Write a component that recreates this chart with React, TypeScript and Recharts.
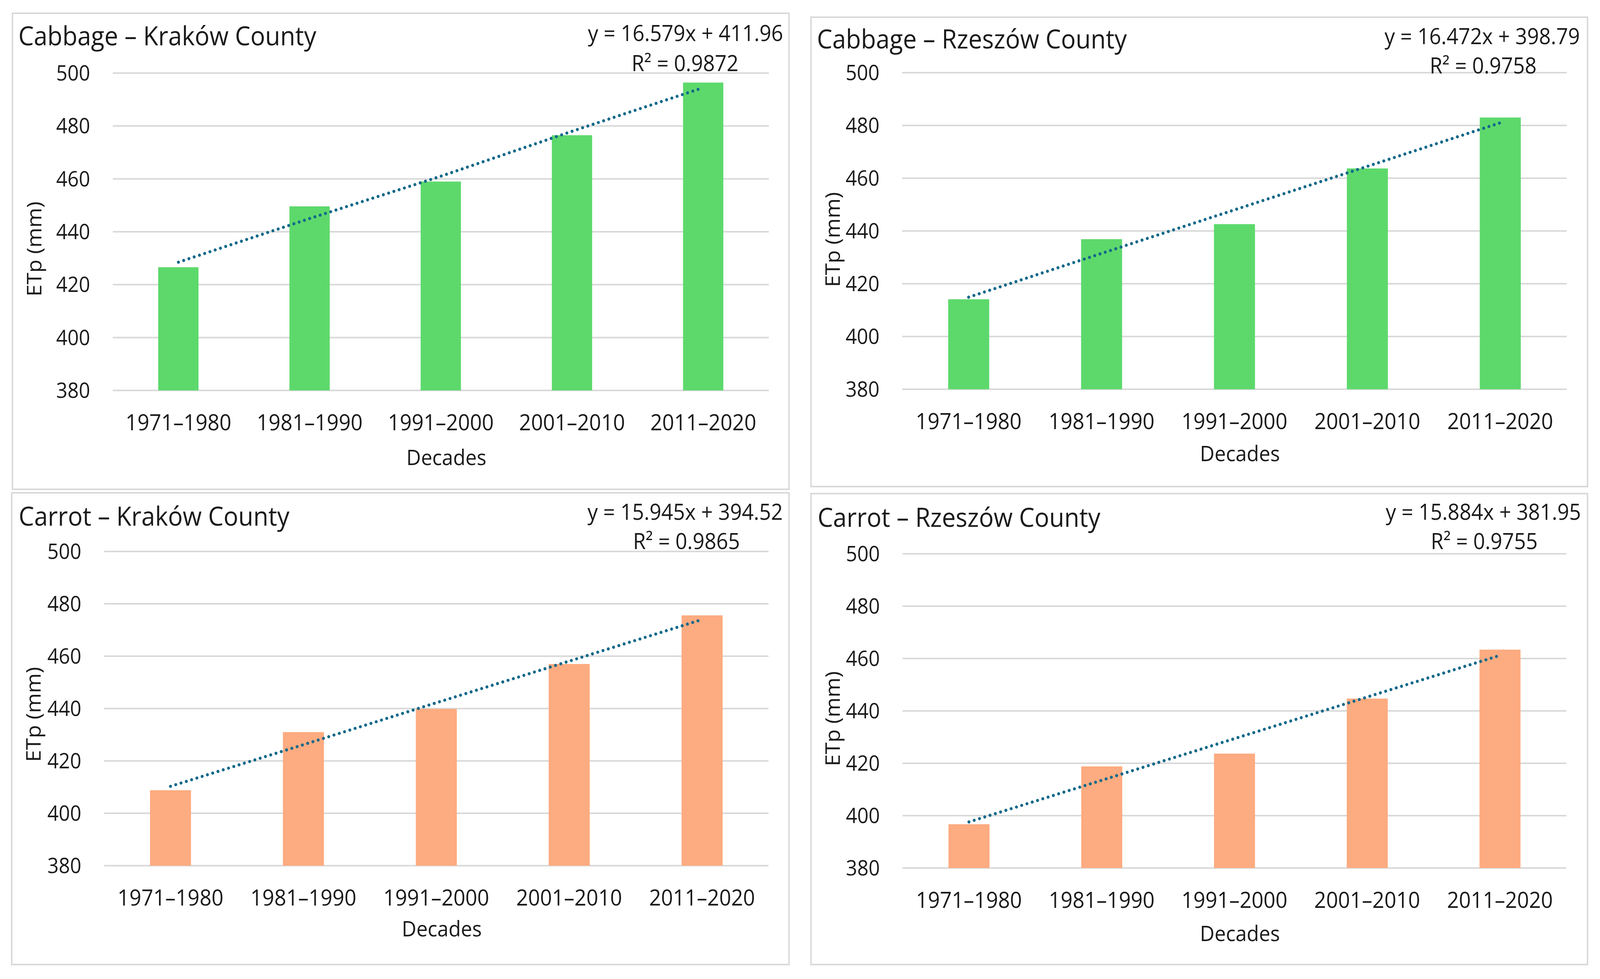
import { ComposedChart, Bar, Line, XAxis, YAxis, CartesianGrid } from "recharts";

// Decades on the category axis, shared by all four panels
const DECADES = ["1971–1980", "1981–1990", "1991–2000", "2001–2010", "2011–2020"];
const Y_TICKS = [380, 400, 420, 440, 460, 480, 500];

// ETp (mm) per decade
const CABBAGE_KRAKOW = [426.6, 449.6, 459.0, 476.5, 496.4];
const CABBAGE_RZESZOW = [414.1, 436.9, 442.6, 463.7, 483.0];
const CARROT_KRAKOW = [408.8, 431.0, 439.9, 457.0, 475.6];
const CARROT_RZESZOW = [396.7, 418.8, 423.7, 444.7, 463.4];

// dotted linear trend lines, read at each bar centre
const CABBAGE_KRAKOW_TREND = [428.5, 445.0, 461.0, 478.0, 494.5];
const CABBAGE_RZESZOW_TREND = [414.9, 431.5, 448.0, 464.5, 481.0];
const CARROT_KRAKOW_TREND = [410.3, 426.2, 442.2, 458.1, 474.0];
const CARROT_RZESZOW_TREND = [397.6, 413.5, 429.4, 445.3, 461.2];

const GREEN = "#5dd96c";
const ORANGE = "#fdab80";
const TREND = "#13698a";
const GRID = "#d9d9d9";
const FONT = "'Open Sans', 'Noto Sans', sans-serif";
const TEXT = "#1a1a1a";

const PAGE_W = 4368;
const PAGE_H = 2505;

type Layout = {
  x: number; y: number; w: number; h: number;
  plotLeft: number; plotRight: number; plotTop: number; plotBottom: number;
  titleX: number; titleY: number;
  eqRight: number; eqY: number; r2Right: number; r2Y: number;
  yLabelY: number; decadesY: number;
};

type PanelProps = {
  layout: Layout;
  title: string;
  equation: string;
  r2: string;
  values: number[];
  trend: number[];
  color: string;
};

function Panel({ layout, title, equation, r2, values, trend, color }: PanelProps) {
  const data = DECADES.map((decade, i) => ({ decade, etp: values[i], trend: trend[i] }));
  const { x, y, w, h, plotLeft, plotRight, plotTop, plotBottom } = layout;
  const midX = (plotLeft + plotRight) / 2 + 15;

  return (
    <div style={{ position: "absolute", left: x, top: y, width: w, height: h }}>
      <div
        style={{
          position: "absolute",
          left: -2,
          top: -2,
          width: w + 4,
          height: h + 4,
          border: `4px solid ${GRID}`,
          boxSizing: "border-box",
        }}
      />
      <div style={{ position: "absolute", left: 0, top: 0 }}>
        <ComposedChart
          width={w}
          height={h}
          data={data}
          margin={{ top: plotTop, right: w - plotRight, bottom: 0, left: 0 }}
          barCategoryGap="34.6%"
        >
          <CartesianGrid vertical={false} stroke={GRID} strokeWidth={4} />
          <XAxis
            dataKey="decade"
            height={h - plotBottom}
            interval={0}
            axisLine={false}
            tickLine={false}
            tickSize={0}
            tickMargin={62}
            tick={{ fontSize: 57, fill: TEXT, fontFamily: FONT }}
          />
          <YAxis
            width={plotLeft}
            domain={[380, 500]}
            ticks={Y_TICKS}
            axisLine={false}
            tickLine={false}
            tickSize={0}
            tickMargin={62}
            tick={{ fontSize: 54, fill: TEXT, fontFamily: FONT }}
          />
          <Bar dataKey="etp" fill={color} isAnimationActive={false} />
          <Line
            dataKey="trend"
            type="linear"
            stroke={TREND}
            strokeWidth={8}
            strokeDasharray="0.01 15"
            strokeLinecap="round"
            dot={false}
            activeDot={false}
            isAnimationActive={false}
          />
        </ComposedChart>
      </div>
      <svg
        width={w}
        height={h}
        style={{ position: "absolute", left: 0, top: 0, pointerEvents: "none", overflow: "visible" }}
      >
        <text x={layout.titleX} y={layout.titleY} fontSize={67} fontFamily={FONT} fill={TEXT}>
          {title}
        </text>
        <text
          x={layout.eqRight}
          y={layout.eqY}
          fontSize={56}
          fontFamily={FONT}
          fill={TEXT}
          textAnchor="end"
          textLength={533}
          lengthAdjust="spacingAndGlyphs"
        >
          {equation}
        </text>
        <text
          x={layout.r2Right}
          y={layout.r2Y}
          fontSize={56}
          fontFamily={FONT}
          fill={TEXT}
          textAnchor="end"
          textLength={292}
          lengthAdjust="spacingAndGlyphs"
        >
          {r2}
        </text>
        <text
          transform={`translate(58, ${layout.yLabelY}) rotate(-90)`}
          fontSize={55}
          fontFamily={FONT}
          fill={TEXT}
          textAnchor="middle"
          dominantBaseline="central"
        >
          ETp (mm)
        </text>
        <text x={midX} y={layout.decadesY} fontSize={55} fontFamily={FONT} fill={TEXT} textAnchor="middle">
          Decades
        </text>
      </svg>
    </div>
  );
}

const LAYOUT_CABBAGE_KRAKOW: Layout = {
  x: 34, y: 34, w: 2120, h: 1218,
  plotLeft: 274, plotRight: 2065, plotTop: 153, plotBottom: 965,
  titleX: 16, titleY: 82, eqRight: 2104, eqY: 71, r2Right: 1982, r2Y: 148,
  yLabelY: 603, decadesY: 1156,
};
const LAYOUT_CABBAGE_RZESZOW: Layout = {
  x: 2214, y: 44, w: 2120, h: 1201,
  plotLeft: 249, plotRight: 2063, plotTop: 142, plotBottom: 952,
  titleX: 16, titleY: 80, eqRight: 2099, eqY: 69, r2Right: 1981, r2Y: 144,
  yLabelY: 569, decadesY: 1136,
};
const LAYOUT_CARROT_KRAKOW: Layout = {
  x: 32, y: 1261, w: 2122, h: 1207,
  plotLeft: 252, plotRight: 2066, plotTop: 150, plotBottom: 954,
  titleX: 19, titleY: 84, eqRight: 2105, eqY: 69, r2Right: 1988, r2Y: 144,
  yLabelY: 567, decadesY: 1135,
};
const LAYOUT_CARROT_RZESZOW: Layout = {
  x: 2214, y: 1263, w: 2120, h: 1205,
  plotLeft: 250, plotRight: 2062, plotTop: 154, plotBottom: 958,
  titleX: 18, titleY: 85, eqRight: 2102, eqY: 67, r2Right: 1984, r2Y: 142,
  yLabelY: 576, decadesY: 1145,
};

export default function App() {
  // the window's CSS viewport is not exactly 4368x2505, so stretch the
  // layout to fill whatever it really gives on both axes
  const sx = typeof window === "undefined" ? 1 : window.innerWidth / PAGE_W;
  const sy = typeof window === "undefined" ? 1 : window.innerHeight / PAGE_H;

  return (
    <div
      style={{
        position: "absolute",
        left: 0,
        top: 0,
        width: PAGE_W,
        height: PAGE_H,
        background: "#ffffff",
        fontFamily: FONT,
        overflow: "hidden",
        transform: `scale(${sx}, ${sy})`,
        transformOrigin: "0 0",
      }}
    >
      <Panel
        layout={LAYOUT_CABBAGE_KRAKOW}
        title="Cabbage – Kraków County"
        equation="y = 16.579x + 411.96"
        r2="R² = 0.9872"
        values={CABBAGE_KRAKOW}
        trend={CABBAGE_KRAKOW_TREND}
        color={GREEN}
      />
      <Panel
        layout={LAYOUT_CABBAGE_RZESZOW}
        title="Cabbage – Rzeszów County"
        equation="y = 16.472x + 398.79"
        r2="R² = 0.9758"
        values={CABBAGE_RZESZOW}
        trend={CABBAGE_RZESZOW_TREND}
        color={GREEN}
      />
      <Panel
        layout={LAYOUT_CARROT_KRAKOW}
        title="Carrot – Kraków County"
        equation="y = 15.945x + 394.52"
        r2="R² = 0.9865"
        values={CARROT_KRAKOW}
        trend={CARROT_KRAKOW_TREND}
        color={ORANGE}
      />
      <Panel
        layout={LAYOUT_CARROT_RZESZOW}
        title="Carrot – Rzeszów County"
        equation="y = 15.884x + 381.95"
        r2="R² = 0.9755"
        values={CARROT_RZESZOW}
        trend={CARROT_RZESZOW_TREND}
        color={ORANGE}
      />
    </div>
  );
}
